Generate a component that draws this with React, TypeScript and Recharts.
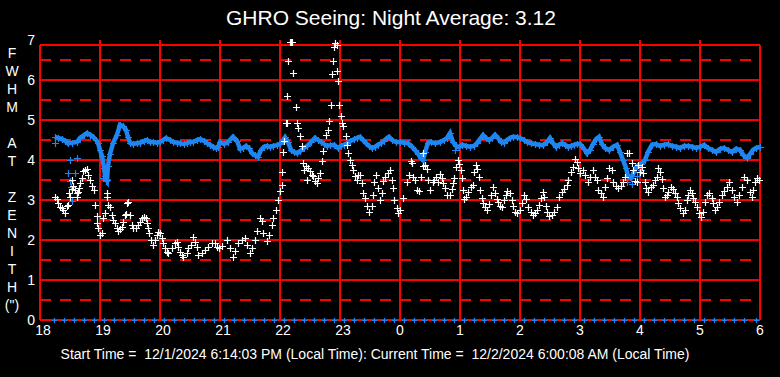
import React from 'react';
import { ScatterChart, Scatter, XAxis, YAxis, ReferenceLine } from 'recharts';

// x = minutes after 18:00 local time, y = FWHM at zenith (arcsec)
const hourTicks = [0, 60, 120, 180, 240, 300, 360, 420, 480, 540, 600, 660, 720];
const hourLabels = ['18', '19', '20', '21', '22', '23', '0', '1', '2', '3', '4', '5', '6'];
const yTicks = [0, 1, 2, 3, 4, 5, 6, 7];
const solidLevels = [1, 2, 3, 4, 5, 6];
const dashedLevels = [0.5, 1.5, 2.5, 3.5, 4.5, 5.5, 6.5];
const innerHours = [60, 120, 180, 240, 300, 360, 420, 480, 540, 600, 660];
const topBorder = 6.875;

const yAxisLetters = ['F', 'W', 'H', 'M', '', 'A', 'T', '', 'Z', 'E', 'N', 'I', 'T', 'H', '(")'];
const titleText = 'GHRO Seeing: Night Average: 3.12';
const footerText = 'Start Time =  12/1/2024 6:14:03 PM (Local Time): Current Time =  12/2/2024 6:00:08 AM (Local Time)';

const blueMain: [number, number][] = [
  [15,4.58],[18,4.55],[22,4.52],[25,4.48],[28,4.42],[32,4.43],[37,4.45],[40,4.55],[44,4.62],[47,4.67],[50,4.63],[53,4.58],[56,4.5],[58,4.43],[60,4.25],[62,4.1],[64,3.8],[65,3.6],[67,3.5],[68,3.85],[70,4.15],[73,4.42],[77,4.63],[80,4.88],[83,4.85],[86,4.75],[88,4.58],[90,4.43],[93,4.4],[97,4.42],[100,4.43],[104,4.47],[107,4.5],[110,4.45],[113,4.45],[117,4.43],[120,4.45],[123,4.5],[126,4.55],[130,4.5],[133,4.45],[137,4.43],[140,4.42],[144,4.4],[147,4.42],[150,4.45],[153,4.45],[157,4.5],[160,4.52],[164,4.48],[167,4.42],[170,4.38],[173,4.33],[176,4.3],[178,4.32],[180,4.45],[184,4.4],[188,4.45],[193,4.58],[197,4.48],[200,4.28],[203,4.3],[206,4.35],[209,4.3],[212,4.17],[215,4.12],[218,4.08],[221,4.25],[224,4.33],[227,4.35],[230,4.33],[233,4.35],[237,4.37],[240,4.4],[243,4.5],[245,4.57],[248,4.45],[251,4.25],[254,4.2],[257,4.17],[260,4.22],[264,4.3],[267,4.35],[271,4.45],[275,4.55],[278,4.5],[281,4.45],[284,4.4],[287,4.35],[290,4.37],[294,4.38],[298,4.3],[301,4.35],[304,4.38],[307,4.42],[310,4.47],[314,4.52],[317,4.55],[320,4.58],[323,4.5],[326,4.42],[329,4.35],[332,4.3],[335,4.33],[338,4.38],[341,4.42],[344,4.48],[347,4.55],[349,4.58],[352,4.5],[356,4.45],[360,4.45],[364,4.43],[368,4.42],[372,4.33],[375,4.25],[378,4.15],[381,4.05],[383,4.0],[385,4.2],[388,4.43],[391,4.45],[395,4.42],[400,4.45],[404,4.5],[407,4.55],[410,4.67],[413,4.45],[416,4.35],[419,4.32],[422,4.38],[426,4.35],[430,4.33],[434,4.35],[437,4.42],[440,4.52],[443,4.62],[446,4.55],[449,4.5],[452,4.55],[455,4.63],[458,4.55],[461,4.45],[464,4.43],[467,4.5],[470,4.55],[473,4.58],[477,4.57],[480,4.55],[484,4.5],[487,4.45],[491,4.42],[495,4.4],[499,4.38],[503,4.37],[507,4.45],[510,4.55],[513,4.42],[516,4.33],[519,4.38],[522,4.42],[525,4.38],[528,4.33],[531,4.35],[534,4.38],[537,4.4],[540,4.4],[544,4.28],[547,4.17],[550,4.25],[553,4.4],[556,4.52],[559,4.58],[562,4.4],[565,4.3],[569,4.25],[573,4.33],[577,4.38],[580,4.2],[583,4.0],[586,3.8],[588,3.6],[591,3.55],[594,3.7],[597,3.85],[601,3.9],[605,4.0],[608,4.2],[612,4.38],[616,4.4],[620,4.35],[624,4.38],[628,4.4],[632,4.35],[636,4.33],[640,4.3],[644,4.35],[648,4.35],[652,4.33],[656,4.3],[660,4.33],[664,4.38],[668,4.3],[672,4.25],[676,4.2],[680,4.28],[684,4.3],[688,4.25],[692,4.2],[696,4.28],[700,4.25],[703,4.13],[707,4.05],[710,4.15],[713,4.25],[716,4.3],[720,4.33]
];

const blueStray: [number, number][] = [
  [15,4.43],[27,4.45],[30,4.0],[37,4.05],[28,3.67],[35,3.67],[31,3.33],[30,3.48],[32,2.98],[63,3.55],[66,3.48],[415,4.25],[587,3.45],[592,3.4],[597,3.6],[601,3.75]
];

const blueBaseTimes = [
  14,24,34,44,54,64,74,84,94,104,114,124,134,144,154,164,174,184,194,204,214,224,234,244,254,264,274,284,294,304,314,324,334,344,354,364,374,384,394,404,414,424,434,444,454,464,474,484,494,504,514,524,534,544,554,564,574,584,594,604,614,624,634,644,654,664,674,684,694,704,716
];

const whiteEvening: [number, number][] = [
  [15,3.08],[17,3.03],[18,2.92],[20,2.83],[22,2.8],[23,2.75],[25,2.68],[27,2.85],[28,2.88],[30,3.08],[29,3.17],[32,3.28],[33,3.35],[35,3.25],[37,3.17],[37,3.08],[38,3.2],[39,3.3],[40,3.43],[42,3.55],[43,3.73],[45,3.75],[47,3.78],[48,3.63],[50,3.5],[52,3.35],[54,3.25],[32,3.5],[55,2.88],[57,2.6],[57,2.43],[58,2.3],[60,2.13],[62,2.18],
  [67,3.08],[67,3.18],[68,2.88],[70,2.83],[65,2.68],[63,2.55],[72,2.63],[73,2.5],[75,2.43],[77,2.3],[78,2.23],[80,2.28],[82,2.33],[83,2.45],[85,2.63],[87,2.92],[88,2.95],[90,2.63],[86,2.65],[92,2.38],[93,2.3],[96,2.3],[98,2.38],[100,2.45],[102,2.55],[104,2.58],[106,2.55],[107,2.43],[108,2.3],[109,2.18],[111,2.0],[113,1.88],[115,2.0],[117,2.13],[118,2.2],[120,2.18],[122,2.05],[123,1.93],[125,1.8],[127,1.7],[128,1.68],[132,1.8],[135,1.93],[137,1.95],[138,1.83],[140,1.7],[142,1.63],[143,1.58],[147,1.68],[148,1.8],[151,1.88],[153,2.08],[155,1.95],[157,1.83],[158,1.63],[162,1.68],[165,1.75],[168,1.83],[172,1.93],[175,1.93],[177,1.83],[179,1.8]
];

const whiteNight: [number, number][] = [
  [182,1.85],[187,2.0],[190,1.8],[193,1.58],[195,1.73],[198,1.93],[202,2.0],[205,2.05],[207,1.88],[210,1.68],[212,1.8],[215,2.0],[217,2.23],[220,2.55],[222,2.48],[223,2.18],[227,1.98],[229,2.13],[232,2.38],[233,2.55],[236,2.75],[238,3.0],[240,3.23],[242,3.38],[242,3.7],[243,4.2],[244,4.48],[247,4.93],[247,5.6],[248,6.48],[251,6.95],[250,6.95],[252,6.95],[253,6.18],[256,5.33],[257,4.93],[246,4.93],[258,4.8],[260,4.6],[262,4.35],
  [263,3.93],[264,3.75],[266,3.85],[268,3.8],[270,3.73],[267,3.5],[272,3.63],[273,3.6],[275,3.48],[277,3.43],[278,3.55],[280,3.68],[282,3.98],[283,4.23],[286,4.63],[288,4.75],[289,4.98],[291,5.38],[292,6.15],[293,6.48],[294,6.83],[295,6.93],[297,6.88],[297,6.23],[298,5.98],[299,5.38],[301,5.1],[302,4.93],[303,4.85],[306,4.6],[307,4.38],[308,4.18],[310,4.0],[312,3.88],[313,3.75],[315,3.6],[317,3.5],[318,3.63],[320,3.63],[322,3.43],[323,3.18],[325,3.05],[327,2.85],[329,2.7],[332,2.85],[333,3.13],[334,3.45],[336,3.63],[338,3.3],[340,3.0],[342,3.18],[343,3.48],[345,3.58],[348,3.68],[350,3.75],[352,3.5],[353,3.3],[354,3.0],[357,2.8],[358,2.68]
];

const whiteMorning: [number, number][] = [
  [360,2.75],[363,3.05],[367,3.45],[369,3.63],[372,3.93],[371,3.98],[373,3.58],[375,3.5],[377,3.25],[379,3.23],[381,3.58],[383,3.85],[385,3.88],[387,3.78],[383,4.18],[388,3.5],[390,3.25],[393,3.45],[394,3.5],[396,3.58],[398,3.45],[400,3.65],[402,3.55],[403,3.43],[405,3.3],[407,3.13],[410,3.13],[412,3.28],[413,3.43],[414,3.55],[416,3.83],[418,4.0],[419,3.9],[421,3.75],[422,3.55],[423,3.25],[424,3.03],[426,3.08],[428,3.2],[431,3.33],[433,3.38],[436,3.88],[437,3.78],[439,3.58],[434,3.7],[440,3.25],[442,3.05],[443,2.93],[445,2.83],[447,2.75],[449,2.9],[451,3.13],[453,3.33],[455,3.18],[457,3.03],[458,2.95],[460,2.85],[462,2.83],[464,3.0],[466,3.13],[467,3.23],[470,3.18],[472,3.0],[473,2.85],[475,2.7],[477,2.68],[480,2.75],[482,2.93],[484,3.13],[486,3.03],[488,2.83],[491,2.7],[493,2.63],[495,2.68],[497,2.75],[499,2.88],[501,3.05],[503,3.2],[504,3.08],[506,2.85],[507,2.7],[509,2.6],[512,2.63],[514,2.7],[517,2.83],[519,3.08],[522,3.2],[524,3.28],[527,3.38],[528,3.5],[531,3.7],[533,3.83],[535,4.03],[537,3.95],[538,3.8],[540,3.68],
  [543,3.75],[545,3.63],[548,3.45],[550,3.58],[553,3.75],[555,3.58],[557,3.5],[558,3.25],[561,3.18],[563,3.08],[565,3.33],[567,3.55],[569,3.8],[572,3.75],[573,3.45],[576,3.35],[578,3.3],[581,3.35],[583,3.45],[585,3.58],[587,4.18],[589,4.18],[592,3.93],[593,3.75],[595,3.48],[597,3.45],[598,3.88],[600,3.7],[602,3.83],[603,3.68],[605,3.45],[606,3.3],[608,3.2],[611,3.33],[613,3.38],[615,3.5],[617,3.58],[618,3.8],[620,3.7],[622,3.53],[623,3.3],[625,3.08],[627,3.13],[628,3.2],[631,3.33],[633,3.28],[635,3.18],[637,3.08],[638,2.93],[640,2.8],[643,2.68],[645,2.75],[647,3.0],[648,3.13],[650,3.25],[652,3.18],[653,3.05],[655,2.95],[657,2.83],[659,2.68],[661,2.58],[663,2.7],[665,2.95],[667,3.13],[669,3.18],[672,3.05],[673,2.93],[675,2.75],[677,2.83],[679,2.95],[682,3.13],[684,3.23],[687,3.33],[689,3.45],[692,3.25],[694,3.08],[697,2.95],[699,3.13],[702,3.33],[704,3.58],[707,3.5],[710,3.2],[712,3.08],[713,3.25],[715,3.45],[717,3.55],[719,3.5]
];

const BLUE = '#1e86f0';
const WHITE = '#ffffff';
const RED = '#ff0000';
const FONT = '"Liberation Sans", Arial, sans-serif';

const toPts = (arr: [number, number][]) => arr.map(([t, v]) => ({ t, v }));

const plusShape = (color: string, arm: number) => (props: any) => {
  const { cx, cy } = props;
  if (cx == null || cy == null) return <g />;
  const x = Math.round(cx);
  const y = Math.round(cy);
  return (
    <path
      d={`M${x - arm},${y + 0.5}H${x + arm + 1}M${x + 0.5},${y - arm}V${y + arm + 1}`}
      stroke={color}
      strokeWidth={1.2}
      fill="none"
    />
  );
};

const XTick = (props: any) => {
  const { x, y, payload } = props;
  const idx = hourTicks.indexOf(payload.value);
  const label = idx >= 0 ? hourLabels[idx] : String(payload.value);
  return (
    <text x={x + (label.length > 1 ? 3 : 0)} y={y} dy="0.71em" textAnchor="middle" fill={WHITE} fontSize={14} fontFamily={FONT}>
      {label}
    </text>
  );
};

export default function App() {
  const whiteAll = [...toPts(whiteEvening), ...toPts(whiteNight), ...toPts(whiteMorning)];
  const base = blueBaseTimes.map((t) => ({ t, v: 0 }));
  return (
    <div style={{ position: 'absolute', left: 0, top: 0, width: 780, height: 377, background: '#000' }}>
      <ScatterChart width={780} height={377} margin={{ top: 40, right: 20, bottom: 27, left: 0 }}>
        <XAxis
          dataKey="t"
          type="number"
          domain={[0, 720]}
          ticks={hourTicks}
          axisLine={false}
          tickLine={false}
          tickSize={0}
          tickMargin={5}
          height={30}
          tick={<XTick />}
          interval={0}
        />
        <YAxis
          dataKey="v"
          type="number"
          domain={[0, 7]}
          ticks={yTicks}
          axisLine={false}
          tickLine={false}
          tickSize={0}
          tickMargin={5}
          width={40}
          interval={0}
          tick={{ fill: WHITE, fontSize: 14, fontFamily: FONT }}
        />
        {dashedLevels.map((lv) => (
          <ReferenceLine key={'d' + lv} y={lv} stroke={RED} strokeWidth={2} strokeDasharray="11 9" />
        ))}
        {solidLevels.map((lv) => (
          <ReferenceLine key={'s' + lv} y={lv} stroke={RED} strokeWidth={2} />
        ))}
        {innerHours.map((h) => (
          <ReferenceLine key={'h' + h} x={h} stroke={RED} strokeWidth={2} segment={[{ x: h, y: 0 }, { x: h, y: topBorder }]} />
        ))}
        <ReferenceLine y={0} stroke={RED} strokeWidth={2} />
        <ReferenceLine y={topBorder} stroke={RED} strokeWidth={2} />
        <ReferenceLine segment={[{ x: 0, y: 0 }, { x: 0, y: topBorder }]} stroke={RED} strokeWidth={2} />
        <ReferenceLine segment={[{ x: 720, y: 0 }, { x: 720, y: topBorder }]} stroke={RED} strokeWidth={2} />
        <Scatter data={toPts(blueMain)} isAnimationActive={false} line={{ stroke: BLUE, strokeWidth: 4.5 }} lineType="joint" shape={plusShape(BLUE, 3)} />
        <Scatter data={toPts(blueStray)} isAnimationActive={false} shape={plusShape(BLUE, 3)} />
        <Scatter data={base} isAnimationActive={false} shape={plusShape(BLUE, 2)} />
        <Scatter data={whiteAll} isAnimationActive={false} shape={plusShape(WHITE, 3)} />
      </ScatterChart>
      <svg width={780} height={377} style={{ position: 'absolute', left: 0, top: 0, pointerEvents: 'none' }}>
        <text x={391} y={25} textAnchor="middle" fill={WHITE} fontSize={21} fontFamily={FONT}>
          {titleText}
        </text>
        {yAxisLetters.map((ch, i) => (
          <text key={i} x={12} y={58 + i * 18} textAnchor="middle" fill={WHITE} fontSize={14} fontFamily={FONT}>
            {ch}
          </text>
        ))}
        <text x={375} y={359} textAnchor="middle" fill={WHITE} fontSize={14} fontFamily={FONT} style={{ whiteSpace: 'pre' }}>
          {footerText}
        </text>
      </svg>
    </div>
  );
}
